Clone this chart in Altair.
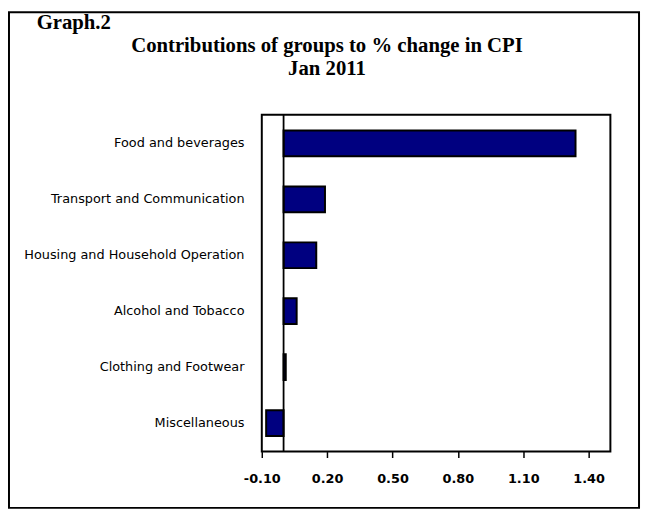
import altair as alt
import pandas as pd

categories = [
    "Food and beverages",
    "Transport and Communication",
    "Housing and Household Operation",
    "Alcohol and Tobacco",
    "Clothing and Footwear",
    "Miscellaneous",
]
values = [1.34, 0.19, 0.15, 0.06, 0.01, -0.08]
x_ticks = [-0.10, 0.20, 0.50, 0.80, 1.10, 1.40]
x_domain = [-0.10, 1.50]

heading = "Graph.2"
title_line1 = "Contributions of groups to % change in CPI"
title_line2 = "Jan 2011"

W, H = 353, 341

df = pd.DataFrame({"group": categories, "value": values})

x_enc = alt.X(
    "value:Q",
    scale=alt.Scale(domain=x_domain, nice=False, zero=False),
    axis=alt.Axis(
        values=x_ticks, title=None, grid=False, domain=False,
        labelExpr="(datum.value < 0 ? '-' : '') + format(abs(datum.value), '.2f')",
        labelFlush=False, labelOverlap=False,
        ticks=True, tickSize=6, tickWidth=1.5, tickColor="black",
        labelFont="DejaVu Sans", labelFontSize=13, labelFontWeight="bold",
        labelColor="black", labelPadding=15,
    ),
)
y_enc = alt.Y(
    "group:N",
    sort=categories,
    scale=alt.Scale(paddingInner=0.54, paddingOuter=0.28),
    axis=alt.Axis(
        title=None, ticks=False, domain=False, grid=False,
        labelFont="DejaVu Sans", labelFontSize=13, labelColor="black",
        labelPadding=18, labelLimit=300,
    ),
)

bars = alt.Chart(df).mark_bar(
    fill="#000080", stroke="black", strokeWidth=2
).encode(x=x_enc, x2=alt.datum(0), y=y_enc)

zero_line = alt.Chart(pd.DataFrame({"z": [0]})).mark_rule(
    color="black", strokeWidth=1.8
).encode(x=alt.X("z:Q"))

one = alt.Data(values=[{"k": 1}])

plot_box = alt.Chart(one).mark_rect(
    fill=None, stroke="black", strokeWidth=2
).encode(
    x=alt.value(0), x2=alt.value(W),
    y=alt.value(0), y2=alt.value(H),
)

frame = alt.Chart(one).mark_rect(
    fill=None, stroke="black", strokeWidth=2
).encode(
    x=alt.value(-256), x2=alt.value(382),
    y=alt.value(-104), y2=alt.value(398),
)

head = alt.Chart(one).mark_text(
    text=heading, font="Liberation Serif", fontSize=21, fontWeight="bold",
    align="left", baseline="alphabetic", color="black",
).encode(x=alt.value(-228), y=alt.value(-87))

t1 = alt.Chart(one).mark_text(
    text=title_line1, font="Liberation Serif", fontSize=21, fontWeight="bold",
    align="center", baseline="alphabetic", color="black",
).encode(x=alt.value(66), y=alt.value(-64))

t2 = alt.Chart(one).mark_text(
    text=title_line2, font="Liberation Serif", fontSize=21, fontWeight="bold",
    align="center", baseline="alphabetic", color="black",
).encode(x=alt.value(66), y=alt.value(-40))

chart = alt.layer(bars, zero_line, plot_box, frame, head, t1, t2).properties(
    width=W,
    height=H,
    background="white",
    padding={"left": 257, "top": 105, "right": 31, "bottom": 60},
    autosize=alt.AutoSizeParams(type="none"),
).configure_view(
    stroke=None
)

chart.save("out.html", embed_options={"renderer": "svg", "actions": False})
